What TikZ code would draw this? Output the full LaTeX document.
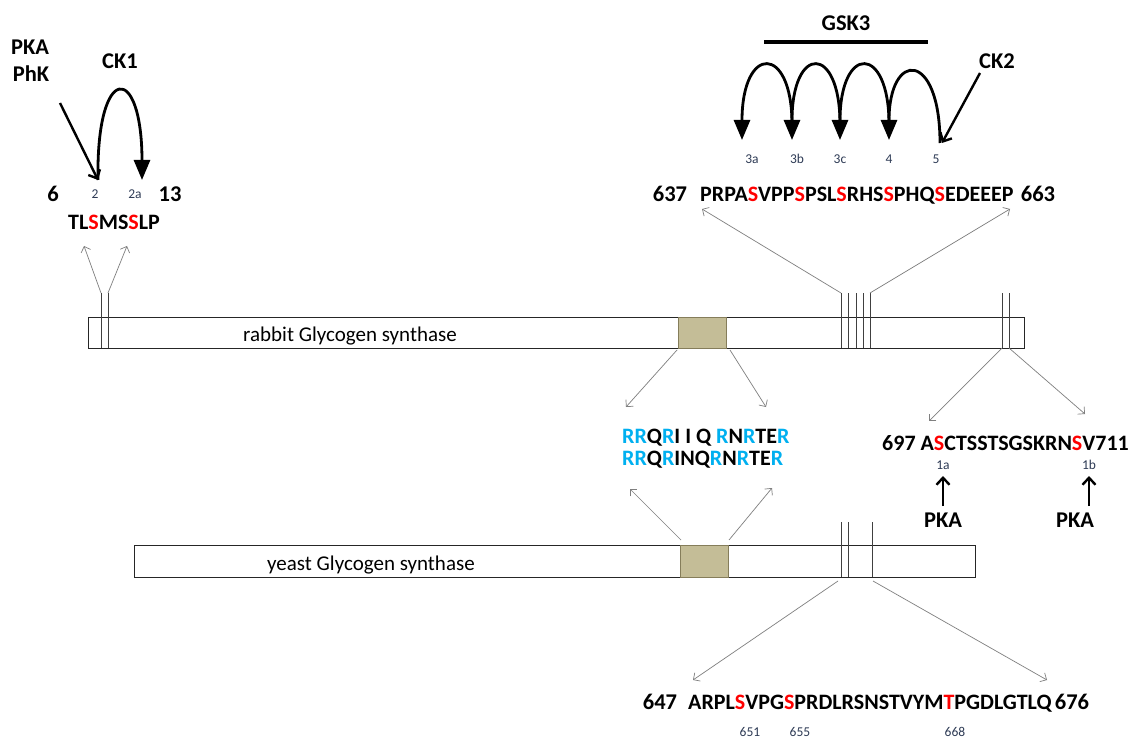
\documentclass[tikz,border=0pt]{standalone}
\usepackage{fontspec}
\setmainfont{Carlito}
\usetikzlibrary{arrows.meta}
\definecolor{seqred}{HTML}{FF0000}
\definecolor{argblue}{HTML}{00B0F0}
\definecolor{khaki}{HTML}{C4BD97}
\definecolor{khakiedge}{HTML}{857D5A}
\definecolor{sitecol}{HTML}{2E3B55}
\definecolor{guidecol}{HTML}{7F7F7F}
\newcommand{\rs}[1]{\textcolor{seqred}{#1}}
\newcommand{\bl}[1]{\textcolor{argblue}{#1}}

\begin{document}
\begin{tikzpicture}[x=1pt,y=-1pt,
  seq/.style={font=\fontsize{22}{26}\selectfont\bfseries, inner sep=0pt, anchor=base west},
  num/.style={font=\fontsize{22.5}{26}\selectfont\bfseries, inner sep=0pt, anchor=base},
  kin/.style={font=\fontsize{22.5}{26}\selectfont\bfseries, inner sep=0pt, anchor=base},
  sitelabel/.style={font=\fontsize{13.5}{15}\selectfont, text=sitecol, inner sep=0pt, anchor=base},
  barlabel/.style={font=\fontsize{21}{25}\selectfont, inner sep=0pt, anchor=base west},
  bar/.style={draw=black!85, line width=1pt, fill=white},
  motif/.style={draw=khakiedge, line width=1pt, fill=khaki},
  siteline/.style={draw=black!75, line width=1pt},
  guide/.style={draw=guidecol, line width=0.7pt, -{Straight Barb[length=5pt,width=10pt]}},
  kinase/.style={line width=2.4pt, -{Straight Barb[length=7pt,width=13pt]}},
  hop/.style={line width=2.8pt, -{Triangle[length=20pt,width=16pt]}},
]
\useasboundingbox[fill=white] (0,0) rectangle (1141,738);

% ---------------- rabbit glycogen synthase ----------------
\draw[bar] (88,317) rectangle (1024,348);
\draw[motif] (678,317) rectangle (726,348);
\node[barlabel] (rabbitlabel) at (243,341) {rabbit Glycogen synthase};

% phosphorylation-site markers on the rabbit enzyme
\draw[siteline] (101,293) coordinate (raT) -- (101,348) coordinate (raB);
\draw[siteline] (108,293) coordinate (rbT) -- (108,348) coordinate (rbB);
\draw[siteline] (841,293) coordinate (rcT) -- (841,348) coordinate (rcB);
\draw[siteline] (848,293) coordinate (rdT) -- (848,348) coordinate (rdB);
\draw[siteline] (856,293) coordinate (reT) -- (856,348) coordinate (reB);
\draw[siteline] (863,293) coordinate (rfT) -- (863,348) coordinate (rfB);
\draw[siteline] (870,293) coordinate (rgT) -- (870,348) coordinate (rgB);
\draw[siteline] (1002,293) coordinate (rhT) -- (1002,348) coordinate (rhB);
\draw[siteline] (1009,293) coordinate (riT) -- (1009,348) coordinate (riB);

% ---------------- yeast glycogen synthase ----------------
\draw[bar] (134,545) rectangle (975,577);
\draw[motif] (680,545) rectangle (728,577);
\node[barlabel] (yeastlabel) at (267,570) {yeast Glycogen synthase};

\draw[siteline] (841,522) coordinate (yaT) -- (841,577) coordinate (yaB);
\draw[siteline] (848,522) coordinate (ybT) -- (848,577) coordinate (ybB);
\draw[siteline] (872,522) coordinate (ycT) -- (872,577) coordinate (ycB);

% ---------------- N-terminal sites ----------------
\node[kin] (pka) at (30,55) {PKA};
\node[kin] (phk) at (31,82) {PhK};
\node[kin] (ck1) at (120,69) {CK1};
\node[num] (n6) at (53,202) {6};
\node[num] (n13) at (170,202) {13};
\node[sitelabel] (s2) at (95,199) {2};
\node[sitelabel] (s2a) at (135,199) {2a};
\node[seq] (nterm) at (68,230) {TL\rs{S}MS\rs{S}LP};

\coordinate (pkafrom) at (60,103);
\coordinate (site2) at (98,180);
\coordinate (site2a) at (142,180);
\draw[kinase] (pkafrom) -- (site2);
\draw[hop] (site2) .. controls (96,62) and (142,62) .. (site2a);

\coordinate (ntermL) at (84,246);
\coordinate (ntermR) at (127,246);
\draw[guide] (raT) -- (ntermL);
\draw[guide] (rbT) -- (ntermR);

% ---------------- C-terminal GSK3 / CK2 cluster ----------------
\node[kin] (gsk3) at (846,31) {GSK3};
\draw[line width=3.6pt] (764,42) coordinate (gskL) -- (928,42) coordinate (gskR);
\node[kin] (ck2) at (997,69) {CK2};

\node[sitelabel] (s3a) at (752,164) {3a};
\node[sitelabel] (s3b) at (797,164) {3b};
\node[sitelabel] (s3c) at (840,164) {3c};
\node[sitelabel] (s4) at (889,164) {4};
\node[sitelabel] (s5) at (936,164) {5};

\coordinate (ck2from) at (980,73);
\coordinate (ck2to) at (942,143);
\coordinate (p5) at (940,143);
\coordinate (p4) at (889,140);
\coordinate (p3c) at (840,140);
\coordinate (p3b) at (792,140);
\coordinate (p3a) at (742,140);
\coordinate (q4) at (889,124);
\coordinate (q3c) at (840,124);
\coordinate (q3b) at (792,124);
\draw[kinase] (ck2from) -- (ck2to);
\draw[hop] (p5) .. controls (940,50) and (889,50) .. (p4);
\draw[hop] (q4) .. controls (889,44) and (840,44) .. (p3c);
\draw[hop] (q3c) .. controls (840,44) and (792,44) .. (p3b);
\draw[hop] (q3b) .. controls (792,44) and (742,44) .. (p3a);

\node[num] (n637) at (670,202) {637};
\node[seq] (cterm) at (700,202) {PRPA\rs{S}VPP\rs{S}PSL\rs{S}RHS\rs{S}PHQ\rs{S}EDEEEP};
\node[num] (n663) at (1038,202) {663};

\coordinate (ctermL) at (702,209);
\coordinate (ctermR) at (1010,209);
\draw[guide] (rcT) -- (ctermL);
\draw[guide] (rgT) -- (ctermR);

% ---------------- conserved arginine motif ----------------
\node[seq] (motif1) at (622,443) {\bl{RR}Q\bl{R}I I Q \bl{R}N\bl{R}TE\bl{R}};
\node[seq] (motif2) at (622,465) {\bl{RR}Q\bl{R}INQ\bl{R}N\bl{R}TE\bl{R}};

\coordinate (rmotL) at (677,350);
\coordinate (rmotR) at (730,350);
\coordinate (ymotL) at (681,540);
\coordinate (ymotR) at (729,540);
\coordinate (m1L) at (626,407);
\coordinate (m1R) at (766,407);
\coordinate (m2L) at (630,489);
\coordinate (m2R) at (772,488);
\draw[guide] (rmotL) -- (m1L);
\draw[guide] (rmotR) -- (m1R);
\draw[guide] (ymotL) -- (m2L);
\draw[guide] (ymotR) -- (m2R);

% ---------------- PKA sites 1a / 1b ----------------
\node[seq] (site1) at (882,450) {697 A\rs{S}CTSSTSGSKRN\rs{S}V711};
\node[sitelabel] (s1a) at (943,469) {1a};
\node[sitelabel] (s1b) at (1089,469) {1b};
\node[kin] (pka1a) at (943,527) {PKA};
\node[kin] (pka1b) at (1075,527) {PKA};
\coordinate (pkaA) at (943,506);
\coordinate (tipA) at (943,476);
\coordinate (pkaB) at (1089,506);
\coordinate (tipB) at (1089,476);
\draw[kinase] (pkaA) -- (tipA);
\draw[kinase] (pkaB) -- (tipB);

\coordinate (site1L) at (929,421);
\coordinate (site1R) at (1085,414);
\draw[guide] (rhB) -- (site1L);
\draw[guide] (riB) -- (site1R);

% ---------------- yeast C-terminal sites ----------------
\node[num] (n647) at (660,709) {647};
\node[seq] (yterm) at (688,709) {ARPL\rs{S}VPG\rs{S}PRDLRSNSTVYM\rs{T}PGDLGTLQ};
\node[num] (n676) at (1072,709) {676};
\node[sitelabel] (s651) at (750,736) {651};
\node[sitelabel] (s655) at (800,736) {655};
\node[sitelabel] (s668) at (955,736) {668};

\coordinate (yfromL) at (838,581);
\coordinate (yfromR) at (873,581);
\coordinate (ytermL) at (693,680);
\coordinate (ytermR) at (1047,680);
\draw[guide] (yfromL) -- (ytermL);
\draw[guide] (yfromR) -- (ytermR);
\end{tikzpicture}
\end{document}
